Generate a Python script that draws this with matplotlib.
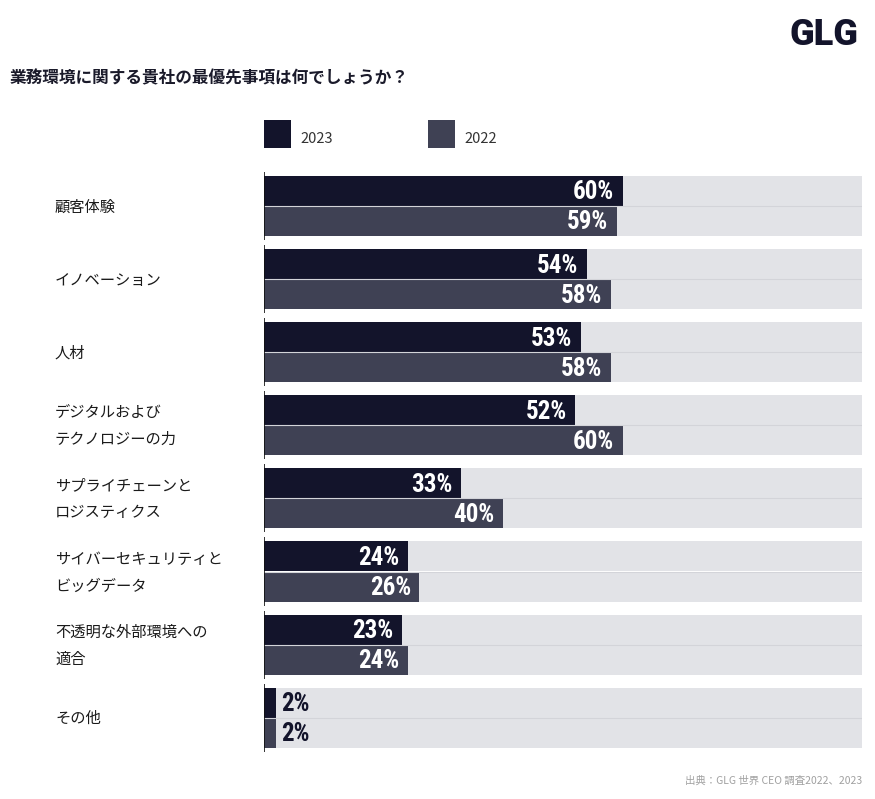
import matplotlib.pyplot as plt
import numpy as np
from matplotlib import font_manager

categories = ["顧客体験", "イノベーション", "人材", "デジタルおよび\nテクノロジーの力",
              "サプライチェーンと\nロジスティクス", "サイバーセキュリティと\nビッグデータ",
              "不透明な外部環境への\n適合", "その他"]
values_2023 = [60, 54, 53, 52, 33, 24, 23, 2]
values_2022 = [59, 58, 58, 60, 40, 26, 24, 2]
years = ["2023", "2022"]

c_2023 = "#13142b"
c_2022 = "#3f4154"
c_bg = "#e2e3e7"

names = {f.name for f in font_manager.fontManager.ttflist}
narrow_pick = [n for n in ["Roboto Condensed", "Liberation Sans Narrow", "DejaVu Sans Condensed"]
               if n in names]
narrow = narrow_pick[:1] + ["DejaVu Sans"]
jp = ["Noto Sans CJK JP", "DejaVu Sans"]

W, H = 875, 799
fig = plt.figure(figsize=(W / 100, H / 100), dpi=100)

# axes placed in pixel coordinates
x0, x1 = 264, 862
y_top, y_bot = 160, 760
ax = fig.add_axes([x0 / W, 1 - y_bot / H, (x1 - x0) / W, (y_bot - y_top) / H])

step = 73.1
first = 206
ax.set_xlim(0, 100)
ax.set_ylim((y_bot - first) / step, (y_top - first) / step)
ax.axis("off")

bh = 30 / step
pos = np.arange(len(categories))

for i in range(len(categories)):
    ax.barh(pos[i] - bh / 2, 100, height=bh, color=c_bg, lw=0)
    ax.barh(pos[i] + bh / 2, 100, height=bh, color=c_bg, lw=0)
    ax.plot([0, 100], [pos[i], pos[i]], color="#d3d4d9", lw=0.8)
    ax.vlines(0, pos[i] - bh - 0.055, pos[i] + bh + 0.055, color="#111111", lw=1.2)

ax.barh(pos - bh / 2, values_2023, height=bh, color=c_2023, lw=0)
ax.barh(pos + bh / 2, values_2022, height=bh, color=c_2022, lw=0)

for i in range(len(categories)):
    for v, y in [(values_2023[i], pos[i] - bh / 2), (values_2022[i], pos[i] + bh / 2)]:
        if v >= 10:
            ax.text(v - 1.4, y + 0.02, f"{v}%", ha="right", va="center", color="white",
                    fontsize=18, fontweight="bold", family=narrow, fontstretch="condensed")
        else:
            ax.text(v + 0.9, y + 0.02, f"{v}%", ha="left", va="center", color=c_2023,
                    fontsize=18, fontweight="bold", family=narrow, fontstretch="condensed")
    fig.text(55 / W, 1 - (first + 1 + step * i) / H, categories[i], ha="left", va="center",
             fontsize=11, family=jp, color="#1a1a1a", linespacing=1.75)

# legend
for k, (yr, col, lx) in enumerate(zip(years, [c_2023, c_2022], [264, 428])):
    fig.patches.append(plt.Rectangle((lx / W, 1 - 148 / H), 27 / W, 28 / H,
                                     transform=fig.transFigure, color=col, lw=0))
    fig.text((lx + 36) / W, 1 - 139 / H, yr, ha="left", va="center", fontsize=10.5,
             family=jp, color="#333333")

fig.text(10 / W, 1 - 78 / H, "業務環境に関する貴社の最優先事項は何でしょうか？", ha="left",
         va="center", fontsize=12, fontweight="bold", family=jp, color="#1a1a2a")
fig.text(858 / W, 1 - 35 / H, "GLG", ha="right", va="center", fontsize=26,
         fontweight="black", family=["Roboto", "DejaVu Sans"], color=c_2023)
fig.text(862 / W, 1 - 781 / H, "出典：GLG 世界 CEO 調査2022、2023", ha="right", va="center",
         fontsize=7.5, family=jp, color="#a0a0a0")

plt.savefig("out.png", dpi=100)
